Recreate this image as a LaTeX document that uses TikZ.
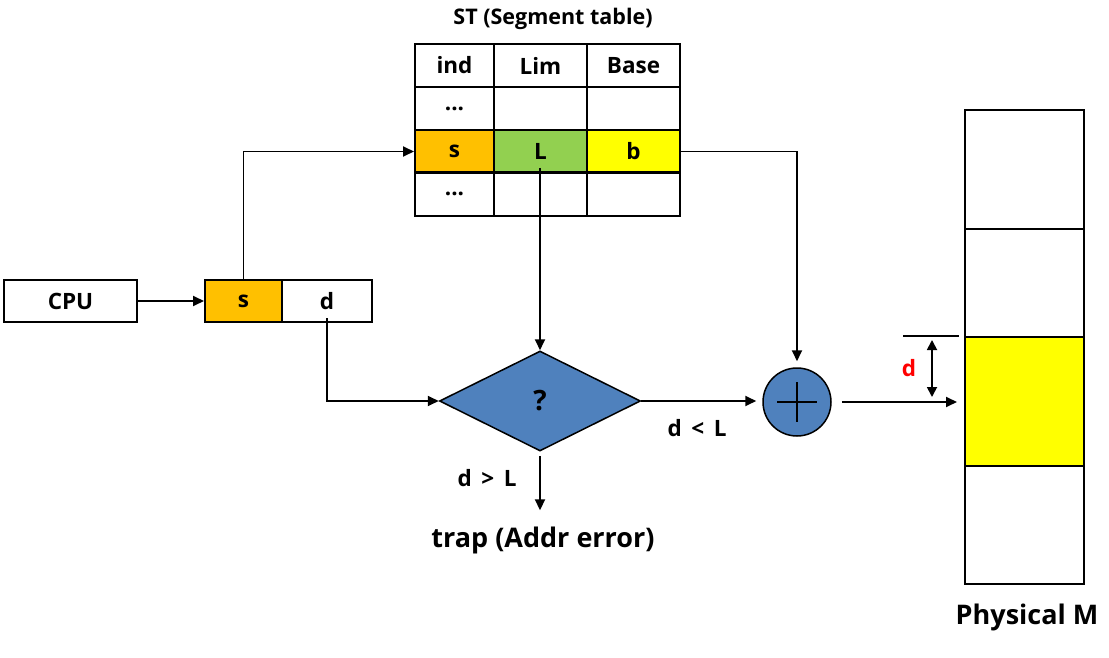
\documentclass[tikz,border=0pt]{standalone}
\usepackage{fontspec}
\setmainfont{Open Sans}
\usetikzlibrary{shapes.geometric,arrows.meta,calc}
\definecolor{orng}{HTML}{FFC000}
\definecolor{grn}{HTML}{92D050}
\definecolor{ylw}{HTML}{FFFF00}
\definecolor{blu}{HTML}{4F81BD}
\begin{document}
\begin{tikzpicture}[x=1pt,y=-1pt,
  cell/.style={draw, line width=2pt, inner sep=0pt, minimum height=43pt, font=\fontsize{22.5}{26}\selectfont\bfseries},
  box/.style={draw, line width=2pt, inner sep=0pt, minimum height=42pt, font=\fontsize{22.5}{26}\selectfont\bfseries},
  seg/.style={draw, line width=2pt, inner sep=0pt, minimum width=119pt},
  arr/.style={line width=1.8pt, -{Triangle[length=11pt,width=10pt]}},
  lbl/.style={font=\fontsize{22.5}{26}\selectfont\bfseries, inner sep=0pt}
]
\useasboundingbox (0,0) rectangle (1109,658);
% title
\node[lbl, font=\fontsize{21.5}{26}\selectfont\bfseries] (title) at (553,19) {ST (Segment table)};
% table
\node[cell, minimum width=79pt] (h1) at (454.5,65.5) {ind};
\node[cell, minimum width=93pt] (h2) at (540.5,65.5) {Lim};
\node[cell, minimum width=93pt] (h3) at (633.5,65.5) {Base};
\node[cell, minimum width=79pt] (r1a) at (454.5,108.5) {...};
\node[cell, minimum width=93pt] (r1b) at (540.5,108.5) {};
\node[cell, minimum width=93pt] (r1c) at (633.5,108.5) {};
\node[cell, minimum width=79pt, fill=orng] (ts) at (454.5,151.5) {s};
\node[cell, minimum width=93pt, fill=grn] (tL) at (540.5,151.5) {L};
\node[cell, minimum width=93pt, fill=ylw] (tb) at (633.5,151.5) {b};
\node[cell, minimum width=79pt] (r3a) at (454.5,194) {...};
\node[cell, minimum width=93pt] (r3b) at (540.5,194) {};
\node[cell, minimum width=93pt] (r3c) at (633.5,194) {};
% CPU and address
\node[box, minimum width=133pt] (cpu) at (70.5,301) {CPU};
\node[box, minimum width=77pt, fill=orng] (as) at (243.5,301) {s};
\node[box, minimum width=90pt] (ad) at (327,301) {d};
% diamond
\node[diamond, draw, line width=1.5pt, fill=blu, inner sep=0pt, aspect=2,
      minimum width=201pt, minimum height=100pt,
      font=\fontsize{28}{32}\selectfont\bfseries] (dia) at (540,401) {?};
% adder
\node[circle, draw, line width=1.5pt, fill=blu, minimum size=68pt, inner sep=0pt] (add) at (797,402) {};
\draw[line width=2pt] ($(add.center)+(-20,0)$) -- ($(add.center)+(20,0)$);
\draw[line width=2pt] ($(add.center)+(0,-20)$) -- ($(add.center)+(0,20)$);
% memory
\node[seg, minimum height=119pt] (m1) at (1024.5,169.5) {};
\node[seg, minimum height=108pt] (m2) at (1024.5,283) {};
\node[seg, minimum height=129pt, fill=ylw] (m3) at (1024.5,401.5) {};
\node[seg, minimum height=118pt] (m4) at (1024.5,525) {};
\node[lbl, font=\fontsize{27}{32}\selectfont\bfseries] (phys) at (1027,617) {Physical M};
% labels
\node[lbl, font=\fontsize{27}{32}\selectfont\bfseries] (trap) at (543,540) {trap (Addr error)};
\node[lbl] (gt) at (487,478) {d \,>\, L};
\node[lbl] (lt) at (697,428) {d \,<\, L};
\node[lbl, text=red] (dd) at (909,368) {d};
% coordinates
\coordinate (dstart) at (327,318);
\coordinate (Lstart) at (540,168);
\coordinate (tick1) at (903,336);
\coordinate (tick2) at (959,336);
\coordinate (da1) at (932,340);
\coordinate (da2) at (932,397);
% connectors
\draw[arr] (cpu.east) -- (as.west);
\draw[arr] (as.north) |- (ts.west);
\draw[arr] (dstart) |- (dia.west);
\draw[arr] (Lstart) -- (dia.north);
\draw[arr, shorten >=6pt] (tb.east) -| (add.north);
\draw[arr, shorten >=6pt] (dia.east) -- (add.west |- dia.east);
\draw[arr, shorten <=10pt, shorten >=7pt] (add.east) -- (add.east -| m3.west);
\draw[arr, shorten <=4pt, shorten >=16pt] (dia.south) -- (trap.north -| dia.south);
\draw[line width=1.8pt] (tick1) -- (tick2);
\draw[line width=1.8pt, {Triangle[length=10pt,width=10pt]}-{Triangle[length=10pt,width=10pt]}] (da1) -- (da2);
\end{tikzpicture}
\end{document}
